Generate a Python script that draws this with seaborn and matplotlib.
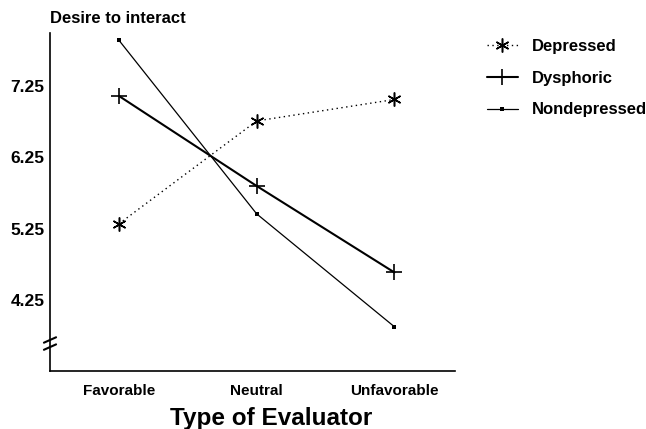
import pandas as pd
import matplotlib
matplotlib.use("Agg")
import matplotlib.pyplot as plt
import seaborn as sns

# --- Datos ---
evaluadores = ['Favorable', 'Neutral', 'Unfavorable']
depressed = [5.32, 6.76, 7.06]
dysphoric = [7.11, 5.85, 4.64]
nondepressed = [7.89, 5.46, 3.88]
y_ticks = [4.25, 5.25, 6.25, 7.25]

sns.set_theme(style='white')
plt.rcParams['font.family'] = ['Liberation Sans', 'DejaVu Sans']
plt.rcParams['text.color'] = 'black'
plt.rcParams['axes.labelcolor'] = 'black'
plt.rcParams['xtick.color'] = 'black'
plt.rcParams['ytick.color'] = 'black'

fig = plt.figure(figsize=(6.46, 4.29), dpi=100)
ax = fig.add_axes([0.0774, 0.135, 0.627, 0.788])

series = [
    ('Depressed', depressed, dict(linestyle=(0, (1, 2.5)), linewidth=1.0, marker=(6, 2, 0),
                                  markersize=10, markeredgewidth=1.1)),
    ('Dysphoric', dysphoric, dict(linestyle='-', linewidth=1.5, marker='+',
                                  markersize=12, markeredgewidth=1.2)),
    ('Nondepressed', nondepressed, dict(linestyle='-', linewidth=0.9, marker='s',
                                        markersize=3, markeredgewidth=0)),
]

for nombre, valores, estilo in series:
    df = pd.DataFrame({'evaluador': evaluadores, 'valor': valores})
    sns.lineplot(data=df, x='evaluador', y='valor', ax=ax, color='black',
                 markeredgecolor='black', markerfacecolor='black',
                 label=nombre, **estilo)

ax.set_xlim(-0.5, 2.44)
ax.set_ylim(3.26, 7.99)
ax.set_yticks(y_ticks)
ax.set_yticklabels([f'{v:.2f}' for v in y_ticks], fontsize=12.5, fontweight='bold')
ax.set_xticks(range(len(evaluadores)))
ax.set_xticklabels(evaluadores, fontsize=11, fontweight='bold')
ax.tick_params(axis='both', direction='in', length=6, width=1, color='black', pad=4)
ax.tick_params(axis='x', pad=9)

for lado in ['top', 'right']:
    ax.spines[lado].set_visible(False)
for lado in ['left', 'bottom']:
    ax.spines[lado].set_color('black')
    ax.spines[lado].set_linewidth(1.2)

ax.set_xlabel('Type of Evaluator', fontsize=17.5, fontweight='bold')
ax.xaxis.set_label_coords(0.546, -0.105)
ax.set_ylabel('')

# Título del eje y
fig.text(0.077, 0.957, 'Desire to interact', fontsize=12, fontweight='bold',
         ha='left', va='center')

# Marca de corte del eje
kw = dict(transform=ax.transAxes, color='black', linewidth=1.5, clip_on=False)
for dy in (0.092, 0.071):
    ax.plot([-0.015, 0.015], [dy - 0.008, dy + 0.008], **kw)

leg = ax.legend(loc='upper left', bbox_to_anchor=(0.73, 0.944), bbox_transform=fig.transFigure,
                frameon=False, fontsize=12, handlelength=1.9, labelspacing=1.0,
                handletextpad=0.8)
for t in leg.get_texts():
    t.set_fontweight('bold')

fig.savefig('out.png', dpi=100)
